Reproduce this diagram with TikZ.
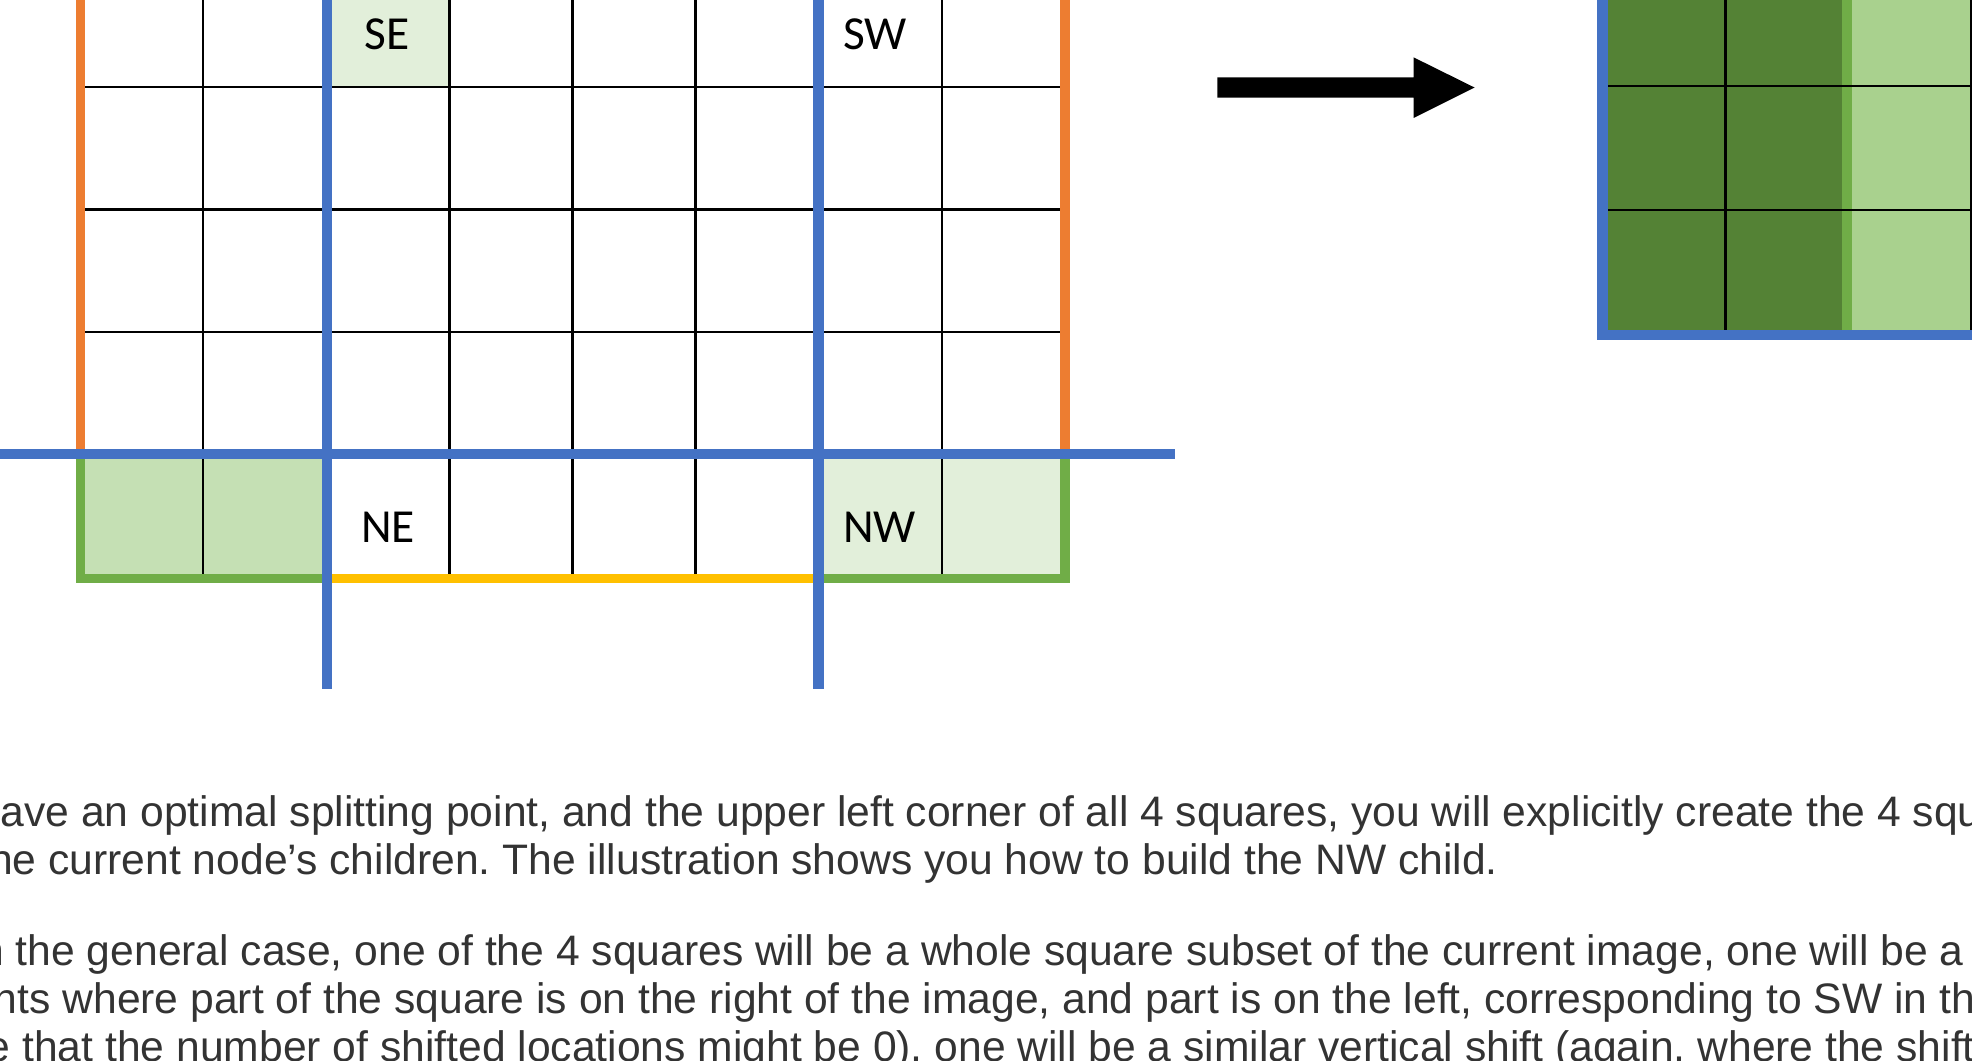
\documentclass[tikz,border=0pt]{standalone}
\usepackage{fontspec}
\newfontfamily\bodyfont{Liberation Sans}
\newfontfamily\labelfont{Carlito}
\definecolor{oblue}{HTML}{4472C4}
\definecolor{oorange}{HTML}{ED7D31}
\definecolor{ogreen}{HTML}{70AD47}
\definecolor{oyellow}{HTML}{FFC000}
\definecolor{lgreen}{HTML}{E2EFDA}
\definecolor{mgreen}{HTML}{C5E0B4}
\definecolor{dgreen}{HTML}{548235}
\definecolor{pgreen}{HTML}{A9D18E}
\definecolor{txt}{HTML}{333333}
\frenchspacing
\begin{document}
\begin{tikzpicture}[x=0.5pt,y=-0.5pt,
  gridline/.style={black,line width=1pt},
  blueline/.style={oblue,line width=4.3pt},
  orangeline/.style={oorange,line width=3.8pt},
  greenline/.style={ogreen,line width=3.8pt},
  yellowline/.style={oyellow,line width=3.8pt},
  cell label/.style={font=\labelfont\fontsize{18.85pt}{20pt}\selectfont, anchor=base, inner sep=0pt},
  body/.style={font=\bodyfont\fontsize{16.95pt}{20pt}\selectfont, text=txt, anchor=base west, inner sep=0pt}]
\path[use as bounding box] (0,0) rectangle (1568,843);
\begin{scope}
\clip (0,0) rectangle (1568,843);
% ---------- left grid ----------
\fill[lgreen] (260,-10) rectangle (357.3,69);
\fill[mgreen] (64,361) rectangle (260,460);
\fill[lgreen] (651,361) rectangle (847,460);
\foreach \y in {69,166.5,264} \draw[gridline] (64,\y) -- (847,\y);
\foreach \x in {161.5,357.3,455.2,553,749} \draw[gridline] (\x,-10) -- (\x,460);
\draw[greenline] (64,361) -- (64,460) -- (260,460);
\draw[yellowline] (260,460) -- (651,460);
\draw[greenline] (651,460) -- (847,460) -- (847,361);
\draw[orangeline] (64,-10) -- (64,361);
\draw[orangeline] (847,-10) -- (847,361);
\draw[blueline] (-10,361) -- (934,361);
\draw[blueline] (260,-10) -- (260,548);
\draw[blueline] (651,-10) -- (651,548);
\node[cell label] (se) at (308,39) {SE};
\node[cell label] (sw) at (696,39) {SW};
\node[cell label] (ne) at (308.5,431.5) {NE};
\node[cell label] (nw) at (699.5,431.5) {NW};
% ---------- arrow ----------
\fill[black] (968,61.5) -- (1124,61.5) -- (1124,45.6) -- (1172.5,69.6) -- (1124,93.8) -- (1124,77.7) -- (968,77.7) -- cycle;
% ---------- right grid ----------
\fill[dgreen] (1274,-10) rectangle (1468.5,266);
\fill[pgreen] (1468.5,-10) rectangle (1580,266);
\draw[ogreen,line width=4pt] (1468.5,-10) -- (1468.5,266);
\draw[gridline] (1372,-10) -- (1372,266);
\draw[gridline] (1567,-10) -- (1567,266);
\foreach \y in {68.4,167} \draw[gridline] (1274,\y) -- (1580,\y);
\draw[blueline] (1274,-10) -- (1274,266.4) -- (1580,266.4);
% ---------- text ----------
\node[body] (l1) at (-18.7,657.3) {have an optimal splitting point, and the upper left corner of all 4 squares, you will explicitly create the 4 squares};
\node[body] (l2) at (-18.4,695.7) {the current node’s children. The illustration shows you how to build the NW child.};
\node[body] (l3) at (-25.5,767.3) {In the general case, one of the 4 squares will be a whole square subset of the current image, one will be a};
\node[body] (l4) at (-50.5,805.7) {points where part of the square is on the right of the image, and part is on the left, corresponding to SW in the};
\node[body] (l5) at (-58,844.1) {note that the number of shifted locations might be 0), one will be a similar vertical shift (again, where the shift};
\end{scope}
\end{tikzpicture}
\end{document}
